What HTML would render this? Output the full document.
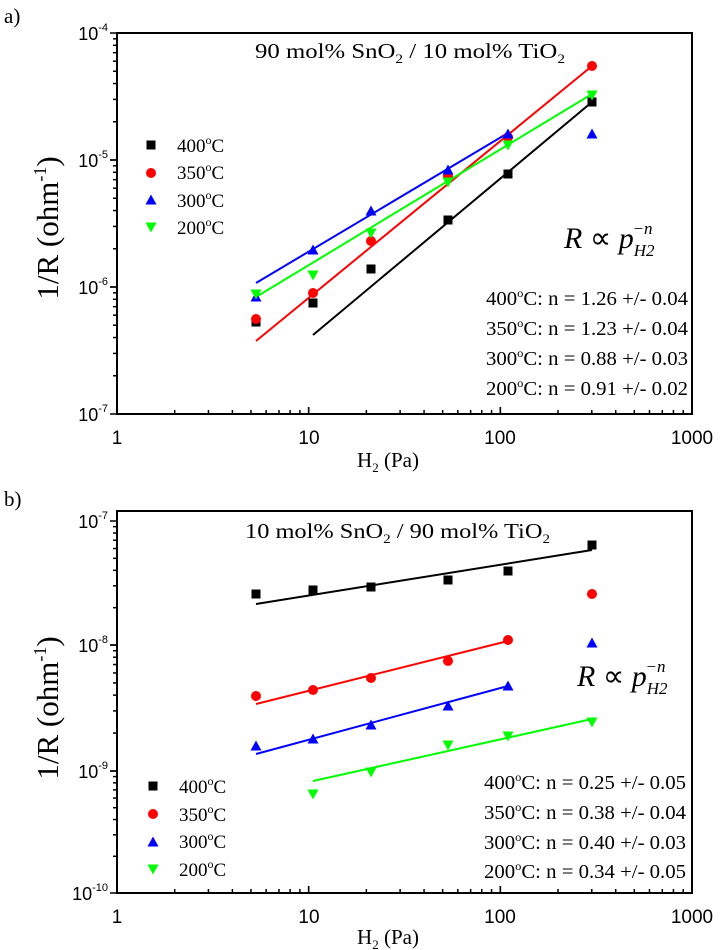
<!DOCTYPE html>
<html><head><meta charset="utf-8">
<style>
html,body{margin:0;padding:0;background:#fff;}
svg{display:block;}
.s{font-family:"Liberation Serif",serif;}
.a{font-family:"Liberation Sans",sans-serif;}
</style></head><body>
<svg id="g" width="720" height="950" viewBox="0 0 720 950" xmlns="http://www.w3.org/2000/svg">
<rect width="720" height="950" fill="#fff"/>
<text x="4" y="23" class="s" font-size="21">a)</text>
<text x="4" y="506" class="s" font-size="21">b)</text>

<!-- Panel a texts -->
<g class="a" font-size="18" text-anchor="end">
<text x="108" y="40">10<tspan font-size="11" dy="-9">-4</tspan></text>
<text x="108" y="167">10<tspan font-size="11" dy="-9">-5</tspan></text>
<text x="108" y="294">10<tspan font-size="11" dy="-9">-6</tspan></text>
<text x="108" y="421">10<tspan font-size="11" dy="-9">-7</tspan></text>
</g>
<g class="a" font-size="19" text-anchor="middle">
<text x="117" y="444">1</text><text x="309" y="444">10</text><text x="500" y="444">100</text><text x="692" y="444">1000</text>
</g>
<text class="s" font-size="21" x="388" y="467" text-anchor="middle">H<tspan font-size="13" dy="5">2</tspan><tspan dy="-5"> (Pa)</tspan></text>
<text class="s" font-size="31" transform="translate(58,228) rotate(-90)" text-anchor="middle">1/R (ohm<tspan font-size="18" dy="-12">-1</tspan><tspan dy="12">)</tspan></text>
<text class="s" font-size="21" x="255" y="58" textLength="310" lengthAdjust="spacingAndGlyphs">90 mol% SnO<tspan font-size="13" dy="5">2</tspan><tspan dy="-5"> / 10 mol% TiO</tspan><tspan font-size="13" dy="5">2</tspan></text>
<g class="s" font-size="19">
<text x="177" y="152">400<tspan font-size="12" dy="-8">o</tspan><tspan dy="8">C</tspan></text>
<text x="177" y="179">350<tspan font-size="12" dy="-8">o</tspan><tspan dy="8">C</tspan></text>
<text x="177" y="207">300<tspan font-size="12" dy="-8">o</tspan><tspan dy="8">C</tspan></text>
<text x="177" y="234">200<tspan font-size="12" dy="-8">o</tspan><tspan dy="8">C</tspan></text>
</g>
<g class="s" font-size="20">
<text x="486" y="305" textLength="202" lengthAdjust="spacingAndGlyphs">400<tspan font-size="12" dy="-8">o</tspan><tspan dy="8">C: n = 1.26 +/- 0.04</tspan></text>
<text x="486" y="335" textLength="202" lengthAdjust="spacingAndGlyphs">350<tspan font-size="12" dy="-8">o</tspan><tspan dy="8">C: n = 1.23 +/- 0.04</tspan></text>
<text x="486" y="365" textLength="202" lengthAdjust="spacingAndGlyphs">300<tspan font-size="12" dy="-8">o</tspan><tspan dy="8">C: n = 0.88 +/- 0.03</tspan></text>
<text x="486" y="395" textLength="202" lengthAdjust="spacingAndGlyphs">200<tspan font-size="12" dy="-8">o</tspan><tspan dy="8">C: n = 0.91 +/- 0.02</tspan></text>
</g>
<text class="s" font-size="30" font-style="italic" x="564" y="248">R <tspan font-style="normal">∝</tspan> p<tspan font-size="17" dy="8">H2</tspan><tspan font-size="17" dx="-22" dy="-22">−n</tspan></text>

<!-- Panel b texts -->
<g class="a" font-size="18" text-anchor="end">
<text x="108" y="528">10<tspan font-size="11" dy="-9">-7</tspan></text>
<text x="108" y="652">10<tspan font-size="11" dy="-9">-8</tspan></text>
<text x="108" y="778">10<tspan font-size="11" dy="-9">-9</tspan></text>
<text x="108" y="900">10<tspan font-size="11" dy="-9">-10</tspan></text>
</g>
<g class="a" font-size="19" text-anchor="middle">
<text x="117" y="923">1</text><text x="309" y="923">10</text><text x="500" y="923">100</text><text x="692" y="923">1000</text>
</g>
<text class="s" font-size="21" x="388" y="944" text-anchor="middle">H<tspan font-size="13" dy="5">2</tspan><tspan dy="-5"> (Pa)</tspan></text>
<text class="s" font-size="31" transform="translate(58,708) rotate(-90)" text-anchor="middle">1/R (ohm<tspan font-size="18" dy="-12">-1</tspan><tspan dy="12">)</tspan></text>
<text class="s" font-size="21" x="245" y="538" textLength="305" lengthAdjust="spacingAndGlyphs">10 mol% SnO<tspan font-size="13" dy="5">2</tspan><tspan dy="-5"> / 90 mol% TiO</tspan><tspan font-size="13" dy="5">2</tspan></text>
<g class="s" font-size="19">
<text x="179" y="793">400<tspan font-size="12" dy="-8">o</tspan><tspan dy="8">C</tspan></text>
<text x="179" y="821">350<tspan font-size="12" dy="-8">o</tspan><tspan dy="8">C</tspan></text>
<text x="179" y="848">300<tspan font-size="12" dy="-8">o</tspan><tspan dy="8">C</tspan></text>
<text x="179" y="876">200<tspan font-size="12" dy="-8">o</tspan><tspan dy="8">C</tspan></text>
</g>
<g class="s" font-size="20">
<text x="484" y="789" textLength="202" lengthAdjust="spacingAndGlyphs">400<tspan font-size="12" dy="-8">o</tspan><tspan dy="8">C: n = 0.25 +/- 0.05</tspan></text>
<text x="484" y="819" textLength="202" lengthAdjust="spacingAndGlyphs">350<tspan font-size="12" dy="-8">o</tspan><tspan dy="8">C: n = 0.38 +/- 0.04</tspan></text>
<text x="484" y="849" textLength="202" lengthAdjust="spacingAndGlyphs">300<tspan font-size="12" dy="-8">o</tspan><tspan dy="8">C: n = 0.40 +/- 0.03</tspan></text>
<text x="484" y="878" textLength="202" lengthAdjust="spacingAndGlyphs">200<tspan font-size="12" dy="-8">o</tspan><tspan dy="8">C: n = 0.34 +/- 0.05</tspan></text>
</g>
<text class="s" font-size="30" font-style="italic" x="577" y="686">R <tspan font-style="normal">∝</tspan> p<tspan font-size="17" dy="8">H2</tspan><tspan font-size="17" dx="-22" dy="-22">−n</tspan></text>

<g id="dyn"></g>
</svg>
<script>
var NS="http://www.w3.org/2000/svg",D=document.getElementById("dyn");
function el(t,a){var e=document.createElementNS(NS,t);for(var k in a)e.setAttribute(k,a[k]);D.appendChild(e);return e;}
function axes(L,R,T,B,yDec){
 el("rect",{x:L,y:T,width:R-L,height:B-T,fill:"none",stroke:"#000","stroke-width":2});
 var dx=(R-L)/3;
 for(var d=0;d<3;d++)for(var m=1;m<=10;m++){var x=L+dx*(d+Math.log10(m));var len=(m==1||m==10)?7:4;el("line",{x1:x,y1:B,x2:x,y2:B-len,stroke:"#000","stroke-width":1.5});}
 for(var i=0;i<yDec.length-1;i++){var y0=yDec[i],y1=yDec[i+1];for(var m=1;m<=10;m++){var y=y1-(y1-y0)*Math.log10(m);var len=(m==1||m==10)?7:4;el("line",{x1:L,y1:y,x2:L-len,y2:y,stroke:"#000","stroke-width":1.5});}}
}
function mk(t,x,y,c){var s=4.5;
 if(t==0)el("rect",{x:x-s,y:y-s,width:2*s,height:2*s,fill:c});
 else if(t==1)el("circle",{cx:x,cy:y,r:s+0.5,fill:c});
 else if(t==2)el("polygon",{points:(x-s-1)+","+(y+s)+" "+(x+s+1)+","+(y+s)+" "+x+","+(y-s-1),fill:c});
 else el("polygon",{points:(x-s-1)+","+(y-s)+" "+(x+s+1)+","+(y-s)+" "+x+","+(y+s+1),fill:c});}
var C=["#000","#f00","#00f","#0f0"];
var X=[256,313,371,448,508,592];
axes(117,692,33,414,[33,160,287,414]);
axes(117,692,511,893,[521,645,771,893]);
el("line",{x1:256,y1:283,x2:508,y2:133,stroke:"#00f","stroke-width":2});
el("line",{x1:256,y1:341,x2:592,y2:66,stroke:"#f00","stroke-width":2});
el("line",{x1:256,y1:297,x2:592,y2:94,stroke:"#0f0","stroke-width":2});
el("line",{x1:313,y1:335,x2:592,y2:102,stroke:"#000","stroke-width":2});
var A=[[322,303,269,220,174,102],[319,293,241,176,137,66],[297,250,211,170,134,134],[294,275,233,182,145,95]];
for(var s=0;s<4;s++)for(var i=0;i<6;i++)mk(s,X[i],A[s][i],C[s]);
[145,173,200,227].forEach(function(y,s){mk(s,151,y,C[s]);});
el("line",{x1:256,y1:604,x2:592,y2:550,stroke:"#000","stroke-width":2});
el("line",{x1:256,y1:704,x2:508,y2:641,stroke:"#f00","stroke-width":2});
el("line",{x1:256,y1:754,x2:508,y2:686,stroke:"#00f","stroke-width":2});
el("line",{x1:313,y1:781,x2:592,y2:719,stroke:"#0f0","stroke-width":2});
var B=[[594,590,587,580,571,545],[696,690,678,661,640,594],[746,739,725,706,686,643],[null,794,772,745,736,722]];
for(var s=0;s<4;s++)for(var i=0;i<6;i++)if(B[s][i]!=null)mk(s,X[i],B[s][i],C[s]);
[786,814,842,869].forEach(function(y,s){mk(s,153,y,C[s]);});
</script>
</body></html>
